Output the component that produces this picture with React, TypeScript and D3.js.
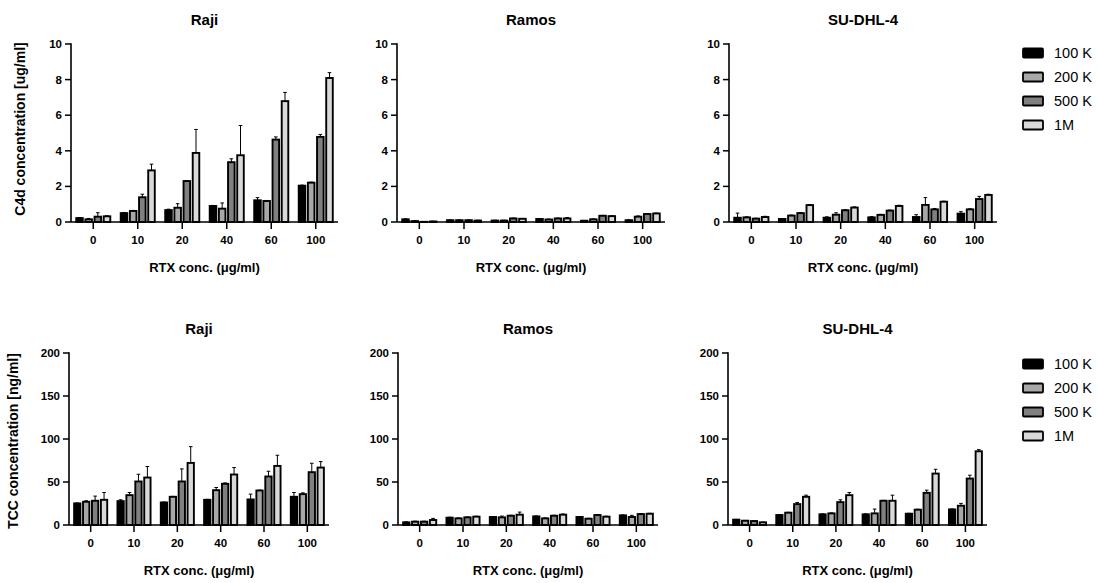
import React from "react";
import * as d3 from "d3";

const groups = ["0", "10", "20", "40", "60", "100"];
const seriesNames = ["100 K", "200 K", "500 K", "1M"];
const seriesColors = ["#000000", "#a8a8a8", "#808080", "#d9d9d9"];

// C4d [ug/ml]
const rajiC4d = [
  [0.22, 0.5, 0.67, 0.9, 1.22, 2.04],
  [0.15, 0.62, 0.8, 0.75, 1.18, 2.21],
  [0.3, 1.39, 2.3, 3.36, 4.63, 4.78],
  [0.32, 2.9, 3.88, 3.75, 6.79, 8.09],
];
const rajiC4dErr = [
  [0.03, 0.03, 0.05, 0.03, 0.15, 0.03],
  [0.05, 0.03, 0.23, 0.32, 0.03, 0.03],
  [0.22, 0.17, 0.03, 0.19, 0.15, 0.14],
  [0.03, 0.35, 1.32, 1.67, 0.49, 0.3],
];
const ramosC4d = [
  [0.15, 0.1, 0.08, 0.17, 0.07, 0.1],
  [0.05, 0.1, 0.08, 0.14, 0.15, 0.3],
  [0.01, 0.1, 0.2, 0.2, 0.35, 0.45],
  [0.03, 0.08, 0.18, 0.2, 0.33, 0.48],
];
const ramosC4dErr = [
  [0.03, 0.02, 0.02, 0.02, 0.02, 0.02],
  [0.02, 0.02, 0.02, 0.02, 0.02, 0.04],
  [0.01, 0.02, 0.02, 0.02, 0.02, 0.02],
  [0.01, 0.02, 0.02, 0.05, 0.02, 0.02],
];
const suC4d = [
  [0.24, 0.17, 0.24, 0.26, 0.28, 0.47],
  [0.26, 0.36, 0.41, 0.4, 0.96, 0.71],
  [0.19, 0.5, 0.66, 0.64, 0.71, 1.29],
  [0.28, 0.95, 0.81, 0.9, 1.14, 1.52],
];
const suC4dErr = [
  [0.26, 0.02, 0.05, 0.04, 0.13, 0.11],
  [0.03, 0.03, 0.11, 0.03, 0.41, 0.03],
  [0.02, 0.03, 0.03, 0.03, 0.05, 0.15],
  [0.04, 0.03, 0.04, 0.04, 0.03, 0.04],
];

// TCC [ng/ml]
const rajiTCC = [
  [25.1, 27.8, 26.2, 29.3, 29.7, 32.8],
  [27, 34.7, 32.8, 40.5, 40.1, 35.9],
  [28.2, 50.6, 50.6, 47.9, 56.4, 61.4],
  [29.3, 55.2, 72.2, 58.7, 68.7, 66.8],
];
const rajiTCCErr = [
  [0.5, 1.5, 0.5, 0.5, 6.2, 5],
  [1.2, 3.1, 0.5, 3.1, 0.5, 1.5],
  [5.4, 8.4, 14.6, 1, 6.1, 10.4],
  [8.5, 12.8, 18.9, 8.1, 12.4, 6.9],
];
const ramosTCC = [
  [3.1, 8.5, 9.3, 10, 9.3, 11.2],
  [3.9, 7.7, 8.9, 7.7, 7.3, 9.3],
  [3.9, 8.9, 10.8, 10.8, 11.6, 12.7],
  [5.8, 9.7, 12, 12, 9.7, 13.1],
];
const ramosTCCErr = [
  [0.5, 0.5, 0.5, 0.5, 0.5, 0.5],
  [0.5, 0.5, 1.5, 0.5, 0.5, 1.9],
  [0.5, 0.5, 0.5, 0.5, 0.5, 0.5],
  [1.9, 0.5, 3, 0.8, 0.5, 0.5],
];
const suTCC = [
  [6.2, 11.6, 12.4, 12.4, 13.1, 18.1],
  [5, 14.3, 13.5, 13.5, 17.8, 22.4],
  [4.6, 24.3, 26.6, 28.2, 37.4, 54],
  [3.1, 32.8, 34.7, 28.2, 59.8, 85.7],
];
const suTCCErr = [
  [0.3, 0.5, 0.5, 0.5, 0.5, 0.5],
  [0.3, 0.5, 0.5, 5, 0.5, 2.7],
  [0.3, 1.9, 2.7, 0.5, 3.1, 3.9],
  [0.3, 1.9, 3.1, 6.5, 5, 1.9],
];

const c4dTicks = [0, 2, 4, 6, 8, 10];
const tccTicks = [0, 50, 100, 150, 200];

const FONT = "'Liberation Sans', Arial, sans-serif";

type PanelProps = {
  title: string;
  x0: number;
  x1: number;
  yTop: number;
  yBottom: number;
  max: number;
  ticks: number[];
  values: number[][];
  errs: number[][];
};

function Panel({ title, x0, x1, yTop, yBottom, max, ticks, values, errs }: PanelProps) {
  const gx = d3.scaleBand<string>().domain(groups).range([x0, x1]).padding(0);
  const y = d3.scaleLinear().domain([0, max]).range([yBottom, yTop]);
  const step = gx.bandwidth() * 0.206;
  const sx = d3
    .scaleBand<string>()
    .domain(seriesNames)
    .range([-2 * step, 2 * step]);
  const bw = step - 2.6;
  const cx = (x0 + x1) / 2;
  return (
    <g>
      <text x={cx} y={yTop - 19} textAnchor="middle" fontFamily={FONT} fontWeight="bold" fontSize={15}>
        {title}
      </text>
      {values.map((vals, si) =>
        vals.map((v, gi) => {
          const bx = gx(groups[gi])! + gx.bandwidth() / 2 + sx(seriesNames[si])! + (step - bw) / 2;
          const top = y(v);
          const et = y(v + errs[si][gi]);
          const mx = bx + bw / 2;
          return (
            <g key={`${si}-${gi}`}>
              <line x1={mx} x2={mx} y1={top} y2={et} stroke="#000" strokeWidth={1} />
              <line x1={mx - 1.8} x2={mx + 1.8} y1={et} y2={et} stroke="#000" strokeWidth={1} />
              <rect
                x={bx}
                y={top}
                width={bw}
                height={Math.max(0, yBottom - top)}
                fill={seriesColors[si]}
                stroke="#000"
                strokeWidth={1.9}
              />
            </g>
          );
        })
      )}
      {/* y axis */}
      <line x1={x0} x2={x0} y1={yTop - 0.8} y2={yBottom} stroke="#000" strokeWidth={1.6} />
      {ticks.map((t) => (
        <g key={t}>
          <line x1={x0 - 6} x2={x0} y1={y(t)} y2={y(t)} stroke="#000" strokeWidth={1.5} />
          <text
            x={x0 - 9}
            y={y(t)}
            dy="0.35em"
            textAnchor="end"
            fontFamily={FONT}
            fontWeight="bold"
            fontSize={11.5}
          >
            {t}
          </text>
        </g>
      ))}
      {/* x axis */}
      <line x1={x0} x2={x1} y1={yBottom} y2={yBottom} stroke="#000" strokeWidth={1.6} />
      {groups.map((g) => {
        const tx = gx(g)! + gx.bandwidth() / 2;
        return (
          <g key={g}>
            <line x1={tx} x2={tx} y1={yBottom} y2={yBottom + 7} stroke="#000" strokeWidth={1.5} />
            <text x={tx} y={yBottom + 22} textAnchor="middle" fontFamily={FONT} fontWeight="bold" fontSize={11.5}>
              {g}
            </text>
          </g>
        );
      })}
      <text x={cx} y={yBottom + 50} textAnchor="middle" fontFamily={FONT} fontWeight="bold" fontSize={13}>
        RTX conc. (μg/ml)
      </text>
    </g>
  );
}

function Legend({ x, y }: { x: number; y: number }) {
  return (
    <g>
      {seriesNames.map((s, i) => (
        <g key={s} transform={`translate(${x},${y + i * 24})`}>
          <rect x={0} y={-4.5} width={20} height={9} fill={seriesColors[i]} stroke="#000" strokeWidth={1.8} rx={1} />
          <text x={31} y={0} dy="0.36em" fontFamily={FONT} fontSize={14.5}>
            {s}
          </text>
        </g>
      ))}
    </g>
  );
}

export default function App() {
  const topY = [44, 222];
  const botY = [353, 525];
  return (
    <svg
      width={1099}
      height={583}
      style={{ position: "absolute", left: 0, top: 0, background: "#fff" }}
    >
      <rect width={1099} height={583} fill="#fff" />
      <Panel title="Raji" x0={71} x1={338} yTop={topY[0]} yBottom={topY[1]} max={10} ticks={c4dTicks} values={rajiC4d} errs={rajiC4dErr} />
      <Panel title="Ramos" x0={397} x1={665} yTop={topY[0]} yBottom={topY[1]} max={10} ticks={c4dTicks} values={ramosC4d} errs={ramosC4dErr} />
      <Panel title="SU-DHL-4" x0={729} x1={997} yTop={topY[0]} yBottom={topY[1]} max={10} ticks={c4dTicks} values={suC4d} errs={suC4dErr} />
      <Panel title="Raji" x0={69} x1={329} yTop={botY[0]} yBottom={botY[1]} max={200} ticks={tccTicks} values={rajiTCC} errs={rajiTCCErr} />
      <Panel title="Ramos" x0={398} x1={658} yTop={botY[0]} yBottom={botY[1]} max={200} ticks={tccTicks} values={ramosTCC} errs={ramosTCCErr} />
      <Panel title="SU-DHL-4" x0={728} x1={987} yTop={botY[0]} yBottom={botY[1]} max={200} ticks={tccTicks} values={suTCC} errs={suTCCErr} />
      <text
        transform={`translate(25,${(topY[0] + topY[1]) / 2 - 4}) rotate(-90)`}
        textAnchor="middle"
        fontFamily={FONT}
        fontWeight="bold"
        fontSize={14}
      >
        C4d concentration [ug/ml]
      </text>
      <text
        transform={`translate(18,${(botY[0] + botY[1]) / 2 + 2}) rotate(-90)`}
        textAnchor="middle"
        fontFamily={FONT}
        fontWeight="bold"
        fontSize={14}
      >
        TCC concentration [ng/ml]
      </text>
      <Legend x={1023} y={53} />
      <Legend x={1023} y={364} />
    </svg>
  );
}
